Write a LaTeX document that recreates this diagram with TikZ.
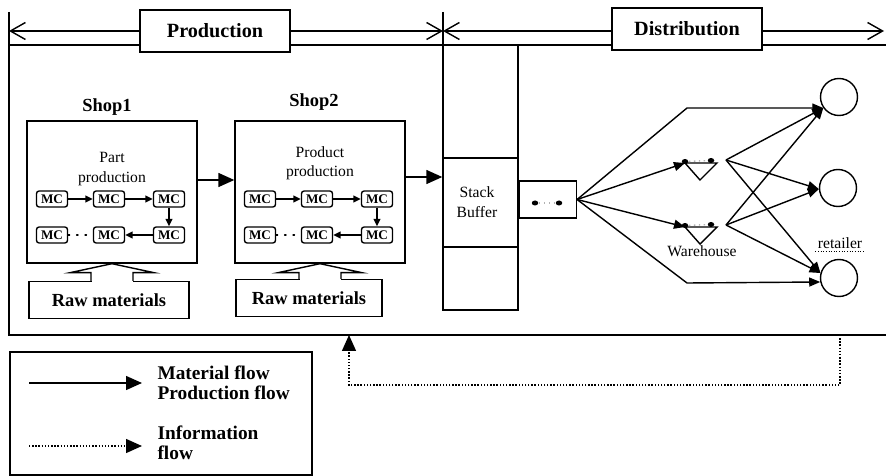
\documentclass[tikz,border=0pt]{standalone}
\usepackage{fontspec}
\setmainfont{Liberation Serif}
\usetikzlibrary{positioning,arrows.meta,calc}
\tikzset{
  phasebox/.style={draw, fill=white, minimum width=30mm, minimum height=8.4mm, inner sep=0pt,
    font=\fontsize{11.5}{13}\selectfont\bfseries},
  phasearrow/.style={{Straight Barb[length=3mm,width=3.4mm]}-{Straight Barb[length=3mm,width=3.4mm]}},
  shopbox/.style={draw, minimum width=34mm, minimum height=28.4mm, inner sep=0pt},
  shoplabel/.style={font=\fontsize{10.5}{12}\selectfont\bfseries},
  rawbox/.style={draw, minimum height=7.4mm, inner sep=0pt, font=\fontsize{10.5}{12}\selectfont\bfseries},
  mcbox/.style={draw, rounded corners=1.5pt, minimum width=6.2mm, minimum height=3.2mm, inner sep=0pt,
    font=\fontsize{7.5}{8}\selectfont\bfseries},
  smalltext/.style={font=\fontsize{8.9}{11}\selectfont, align=center},
  legendtext/.style={font=\fontsize{11}{11.5}\selectfont\bfseries, align=left},
  flowarrow/.style={-{Triangle[length=3.2mm,width=2.8mm]}},
  netarrow/.style={-{Triangle[length=2.2mm,width=1.8mm]}},
  mcarrow/.style={-{Triangle[length=1.5mm,width=1.4mm]}},
  infoarrow/.style={densely dotted, -{Triangle[length=3.2mm,width=2.8mm]}},
  retailer/.style={circle, draw, minimum size=7.4mm, inner sep=0pt},
  pointdot/.style={ellipse, fill, inner sep=0pt, minimum width=1.3mm, minimum height=1mm},
}
\usetikzlibrary{shapes.geometric}

\begin{document}
\begin{tikzpicture}[x=0.02cm, y=-0.02cm, line width=0.8pt]
  \useasboundingbox (0,0) rectangle (886,476);
  % frame round production and distribution
  \draw (9,12) -- (9,335) -- (886,335);
  \draw (9,45) -- (886,45);
  \draw (443,12) -- (443,45);
  % phase arrows and their titles
  \coordinate (bandL) at (9,31);
  \coordinate (bandM) at (443,31);
  \coordinate (bandR) at (884,31);
  \draw[phasearrow] (bandL) -- (bandM);
  \draw[phasearrow] (bandM) -- (bandR);
  \node[phasebox] (prod) at (215,31) {Production};
  \node[phasebox] (dist) at (687,29) {Distribution};
  % shops
  \node[shopbox] (shop1) at (112,192) {};
  \node[shopbox] (shop2) at (320,192) {};
  \node[shoplabel] (shop1lbl) at (107,107) {Shop1};
  \node[shoplabel] (shop2lbl) at (314,102) {Shop2};
  \node[smalltext] (shop1txt) at ($(shop1)+(0,-23)$) {Part\\production};
  \node[smalltext] (shop2txt) at ($(shop2)+(0,-29)$) {Product\\production};
  \foreach \s in {shop1,shop2}{
    \node[mcbox] (\s-a) at ($(\s)+(-60,7)$) {MC};
    \node[mcbox] (\s-b) at ($(\s)+(-3,7)$) {MC};
    \node[mcbox] (\s-c) at ($(\s)+(57,7)$) {MC};
    \node[mcbox] (\s-d) at ($(\s)+(-60,43)$) {MC};
    \node[mcbox] (\s-e) at ($(\s)+(-3,43)$) {MC};
    \node[mcbox] (\s-f) at ($(\s)+(57,43)$) {MC};
    \draw[mcarrow] (\s-a) -- (\s-b);
    \draw[mcarrow] (\s-b) -- (\s-c);
    \draw[mcarrow] (\s-c) -- (\s-f);
    \draw[mcarrow] (\s-f) -- (\s-e);
    \draw[dash pattern=on 0.8pt off 4pt, line cap=round] (\s-d) -- (\s-e);
  }
  % raw materials
  \node[rawbox, minimum width=32mm] (raw1) at (109,300) {Raw materials};
  \node[rawbox, minimum width=29.2mm] (raw2) at (309,298) {Raw materials};
  \foreach \s/\r in {shop1/raw1,shop2/raw2}{
    \fill[white] ($(\s.south |- \r.north)+(-20.5,-1.5)$) rectangle ($(\s.south |- \r.north)+(20.5,1.5)$);
    \draw ($(\s.south |- \r.north)+(-21,0)$) -- ($(\s.south)+(-21,9)$) -- ($(\s.south)+(-42,9)$)
      -- (\s.south) -- ($(\s.south)+(42,9)$) -- ($(\s.south)+(21,9)$) -- ($(\s.south |- \r.north)+(21,0)$);
  }
  % stack buffer
  \node[draw, minimum width=15mm, minimum height=53mm, inner sep=0pt] (buffer) at (480.5,177.5) {};
  \draw (buffer.west |- 0,158) -- (buffer.east |- 0,158);
  \draw (buffer.west |- 0,247) -- (buffer.east |- 0,247);
  \node[smalltext] (buftxt) at (477,202) {Stack\\Buffer};
  % material flow
  \draw[flowarrow] ([yshift=2.4mm]shop1.east) -- ([yshift=2.4mm]shop2.west);
  \draw[flowarrow] ([yshift=3mm]shop2.east) -- ([yshift=3mm]shop2.east -| buffer.west);
  % queue after the buffer
  \node[draw, minimum width=11.4mm, minimum height=7.4mm, anchor=west, inner sep=0pt] (queue) at (buffer.east |- 0,199.5) {};
  \node[pointdot] (qdot1) at (535,203) {};
  \node[pointdot] (qdot2) at (559,203) {};
  \draw[gray!60, dotted] (qdot1) -- (qdot2);
  % warehouses
  \coordinate (wh1-in) at (685,163);
  \coordinate (wh1-out) at (726,160);
  \coordinate (wh2-in) at (685,227);
  \coordinate (wh2-out) at (726,225);
  \foreach \w in {wh1,wh2}{
    \draw (\w-in) -- ($(\w-in)+(32,0)$) -- ($(\w-in)+(15,17)$) -- cycle;
    \node[pointdot] (\w-dotL) at ($(\w-in)+(0,-1.5)$) {};
    \node[pointdot] (\w-dotR) at ($(\w-in)+(26,-2.5)$) {};
    \draw[gray!60, dotted] (\w-dotL) -- (\w-dotR);
  }
  \node[smalltext] (whlbl) at (702,251) {Warehouse};
  % retailers
  \node[retailer] (r1) at (839,97) {};
  \node[retailer] (r2) at (838,188) {};
  \node[retailer] (r3) at (839,278) {};
  \node[smalltext, inner sep=1pt] (retlbl) at (840,243) {retailer};
  \draw[densely dotted, line width=0.5pt] ([yshift=-1.8pt]retlbl.base west) -- ([yshift=-1.8pt]retlbl.base east);
  % distribution network
  \coordinate (bendtop) at (687,108);
  \coordinate (bendbot) at (687,283);
  \draw[netarrow] (queue.east) -- (bendtop) -- (r1.215);
  \draw[netarrow] (queue.east) -- (wh1-in);
  \draw[netarrow] (queue.east) -- (wh2-in);
  \draw[netarrow] (queue.east) -- (bendbot) -- (r3.192);
  \foreach \w in {wh1,wh2}{
    \draw[netarrow] (\w-out) -- (r1.215);
    \draw[netarrow] (\w-out) -- (r2.183);
    \draw[netarrow] (\w-out) -- (r3.165);
  }
  % information flow back to production
  \coordinate (infofrom) at (840,335);
  \coordinate (infoto) at (349,335);
  \draw[infoarrow] (infofrom) -- (infofrom |- 0,385) -- (infoto |- 0,385) -- (infoto);
  % legend
  \node[draw, minimum width=60.4mm, minimum height=24.6mm, inner sep=0pt] (legend) at (161,413.5) {};
  \coordinate (matfrom) at (29,383);
  \coordinate (matto) at (142,383);
  \coordinate (inffrom) at (29,446);
  \coordinate (infto) at (142,446);
  \draw[flowarrow] (matfrom) -- (matto);
  \draw[infoarrow] (inffrom) -- (infto);
  \node[legendtext, anchor=west] (mattxt) at (151,382.5) {Material flow\\Production flow};
  \node[legendtext, anchor=west] (inftxt) at (151,442.5) {Information\\flow};
\end{tikzpicture}
\end{document}
